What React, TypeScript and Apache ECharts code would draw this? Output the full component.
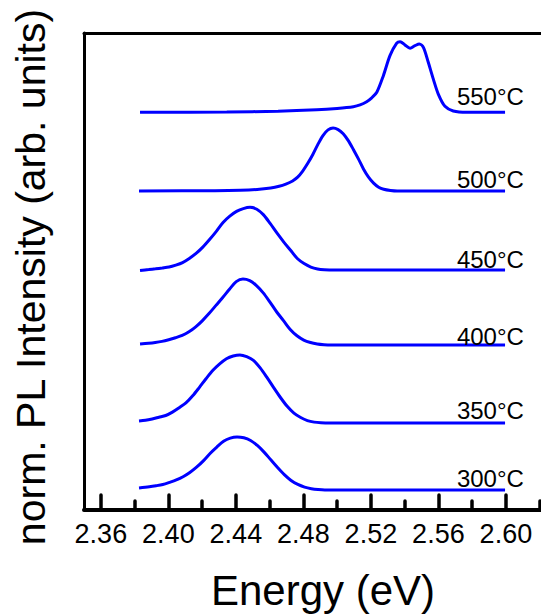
import React, { useEffect, useRef } from "react";
import * as echarts from "echarts";

// Annealing temperatures, bottom to top
const temperatures = ["300°C", "350°C", "400°C", "450°C", "500°C", "550°C"];

// Photon energy (eV) and normalised PL intensity (0..1) of each spectrum
const energy300 = [2.3826, 2.3887, 2.3927, 2.3967, 2.4007, 2.4047, 2.4087, 2.4127, 2.4167, 2.4207, 2.4247, 2.4287, 2.4327, 2.4367, 2.4407, 2.4447, 2.4487, 2.4527, 2.4567, 2.4607, 2.4647, 2.4687, 2.4727, 2.4767, 2.4807, 2.4847, 2.4887, 2.4927, 2.5995];
const pl300 = [0.038, 0.06, 0.08, 0.105, 0.145, 0.19, 0.25, 0.33, 0.43, 0.55, 0.69, 0.81, 0.92, 0.98, 1.0, 0.985, 0.935, 0.84, 0.715, 0.57, 0.425, 0.29, 0.18, 0.105, 0.055, 0.025, 0.008, 0, 0];

const energy350 = [2.3826, 2.3864, 2.3904, 2.3944, 2.3984, 2.4024, 2.4064, 2.4104, 2.4144, 2.4184, 2.4224, 2.4264, 2.4304, 2.4344, 2.4384, 2.4424, 2.4464, 2.4504, 2.4544, 2.4584, 2.4624, 2.4664, 2.4704, 2.4744, 2.4784, 2.4824, 2.4864, 2.4904, 2.4954, 2.5995];
const pl350 = [0.029, 0.04, 0.06, 0.085, 0.11, 0.16, 0.225, 0.295, 0.4, 0.525, 0.655, 0.775, 0.87, 0.945, 0.985, 1.0, 0.975, 0.92, 0.81, 0.67, 0.52, 0.375, 0.245, 0.145, 0.08, 0.035, 0.013, 0.004, 0, 0];

const energy400 = [2.3832, 2.3882, 2.3922, 2.3962, 2.4002, 2.4042, 2.4082, 2.4122, 2.4162, 2.4202, 2.4242, 2.4282, 2.4322, 2.4362, 2.4402, 2.4442, 2.4482, 2.4522, 2.4562, 2.4602, 2.4642, 2.4682, 2.4722, 2.4762, 2.4802, 2.4842, 2.4882, 2.4922, 2.4962, 2.5995];
const pl400 = [0.015, 0.026, 0.038, 0.055, 0.08, 0.11, 0.145, 0.2, 0.275, 0.37, 0.48, 0.6, 0.72, 0.845, 0.96, 1.0, 0.975, 0.9, 0.79, 0.65, 0.5, 0.37, 0.235, 0.14, 0.075, 0.038, 0.016, 0.005, 0, 0];

const energy450 = [2.3832, 2.3884, 2.3924, 2.3964, 2.4004, 2.4044, 2.4084, 2.4124, 2.4164, 2.4204, 2.4244, 2.4284, 2.4324, 2.4364, 2.4404, 2.4444, 2.4484, 2.4524, 2.4564, 2.4604, 2.4644, 2.4684, 2.4724, 2.4764, 2.4804, 2.4844, 2.4884, 2.4924, 2.4984, 2.5995];
const pl450 = [0, 0.015, 0.027, 0.04, 0.055, 0.085, 0.125, 0.19, 0.27, 0.37, 0.49, 0.62, 0.76, 0.86, 0.935, 0.98, 1.0, 0.97, 0.88, 0.74, 0.59, 0.45, 0.32, 0.19, 0.11, 0.055, 0.025, 0.013, 0.008, 0.008];

const energy500 = [2.3826, 2.4276, 2.4426, 2.4526, 2.4606, 2.4656, 2.4696, 2.4736, 2.4766, 2.4796, 2.4826, 2.4856, 2.4886, 2.4916, 2.4946, 2.4976, 2.5006, 2.5036, 2.5066, 2.5096, 2.5126, 2.5156, 2.5186, 2.5216, 2.5246, 2.5276, 2.5316, 2.5356, 2.5995];
const pl500 = [0, 0.005, 0.012, 0.025, 0.048, 0.075, 0.11, 0.16, 0.22, 0.317, 0.44, 0.58, 0.74, 0.88, 0.97, 1.0, 0.975, 0.91, 0.8, 0.66, 0.51, 0.35, 0.22, 0.125, 0.06, 0.027, 0.008, 0, 0];

const energy550 = [2.3832, 2.4346, 2.465, 2.4879, 2.5, 2.5096, 2.5136, 2.5175, 2.5205, 2.5235, 2.5274, 2.5313, 2.5353, 2.5373, 2.5402, 2.5432, 2.5461, 2.5487, 2.5511, 2.554, 2.557, 2.56, 2.5639, 2.5688, 2.5768, 2.5995];
const pl550 = [0, 0.005, 0.015, 0.035, 0.055, 0.08, 0.105, 0.15, 0.205, 0.283, 0.519, 0.802, 0.98, 1.0, 0.953, 0.907, 0.943, 0.967, 0.92, 0.708, 0.47, 0.255, 0.085, 0.019, 0, 0];

// Vertical stacking: baseline offset and peak height of each trace (arb. units)
const offsets = [20, 87, 165, 239.5, 319, 397.7];
const peakHeights = [53, 68, 66, 63.2, 63, 70.6];

// Axis range and ticks
const energyMin = 2.35;
const energyMax = 2.6208;
const majorTicks = [2.36, 2.4, 2.44, 2.48, 2.52, 2.56, 2.6];
const minorTicks = [2.38, 2.42, 2.46, 2.5, 2.54, 2.58, 2.62];

const energies = [energy300, energy350, energy400, energy450, energy500, energy550];
const intensities = [pl300, pl350, pl400, pl450, pl500, pl550];

const FONT = "'Liberation Sans', Arial, Helvetica, sans-serif";
const LABEL_DY = [-12, -13, -9, -11, -12, -16];

export default function App() {
  const ref = useRef<HTMLDivElement>(null);

  useEffect(() => {
    if (!ref.current) return;
    const chart = echarts.init(ref.current, null, { renderer: "svg" });

    const series = temperatures.map((t, k) => ({
      type: "line",
      name: t,
      xAxisIndex: 0,
      yAxisIndex: 0,
      data: energies[k].map((e, i) => [e, offsets[k] + intensities[k][i] * peakHeights[k]]),
      showSymbol: false,
      smooth: 0.3,
      lineStyle: { color: "#0000ff", width: 3 },
      itemStyle: { color: "#0000ff" },
      markPoint: {
        symbol: "circle",
        symbolSize: 1,
        itemStyle: { color: "rgba(0,0,0,0)" },
        silent: true,
        data: [{ coord: [2.6, offsets[k]] }],
        label: {
          show: true,
          position: "inside",
          formatter: t,
          align: "right",
          verticalAlign: "middle",
          offset: [18, LABEL_DY[k]],
          fontSize: 24,
          fontFamily: FONT,
          color: "#000",
        },
      },
    }));

    chart.setOption({
      animation: false,
      backgroundColor: "#fff",
      grid: { left: 84, top: 33, bottom: 106, right: 0, containLabel: false },
      xAxis: [
        {
          type: "value",
          position: "bottom",
          min: energyMin,
          max: energyMax,
          axisLine: { show: true, onZero: false, lineStyle: { color: "#000", width: 4 } },
          axisTick: {
            show: true,
            inside: true,
            length: 15,
            customValues: majorTicks,
            lineStyle: { color: "#000", width: 3.5, cap: "round" },
          },
          axisLabel: {
            show: true,
            customValues: majorTicks,
            formatter: (v: number) => v.toFixed(2),
            fontSize: 27,
            fontFamily: FONT,
            color: "#000",
            margin: 10,
          },
          splitLine: { show: false },
        },
        {
          type: "value",
          position: "bottom",
          min: energyMin,
          max: energyMax,
          axisLine: { show: false, onZero: false },
          axisTick: {
            show: true,
            inside: true,
            length: 9,
            customValues: minorTicks,
            lineStyle: { color: "#000", width: 3.5, cap: "round" },
          },
          axisLabel: { show: false },
          splitLine: { show: false },
        },
        {
          type: "value",
          position: "top",
          min: energyMin,
          max: energyMax,
          axisLine: { show: true, onZero: false, lineStyle: { color: "#000", width: 3 } },
          axisTick: { show: false },
          axisLabel: { show: false },
          splitLine: { show: false },
        },
      ],
      yAxis: [
        {
          type: "value",
          min: 0,
          max: 477,
          interval: 4.5,
          axisLine: { show: true, onZero: false, lineStyle: { color: "#000", width: 3 } },
          axisTick: { show: true, inside: true, length: 2, lineStyle: { color: "#000", width: 1 } },
          axisLabel: { show: false },
          splitLine: { show: false },
        },
      ],
      graphic: [
        {
          type: "text",
          x: 323,
          y: 590,
          style: {
            text: "Energy (eV)",
            fontSize: 42,
            fontFamily: FONT,
            fill: "#000",
            align: "center",
            verticalAlign: "middle",
          },
        },
        {
          type: "text",
          x: 31,
          y: 277,
          rotation: Math.PI / 2,
          style: {
            text: "norm. PL Intensity (arb. units)",
            fontSize: 41,
            fontFamily: FONT,
            fill: "#000",
            align: "center",
            verticalAlign: "middle",
          },
        },
      ],
      series,
    });

    return () => chart.dispose();
  }, []);

  return (
    <div
      ref={ref}
      style={{ position: "fixed", left: 0, top: 0, width: 541, height: 616, background: "#fff" }}
    />
  );
}
